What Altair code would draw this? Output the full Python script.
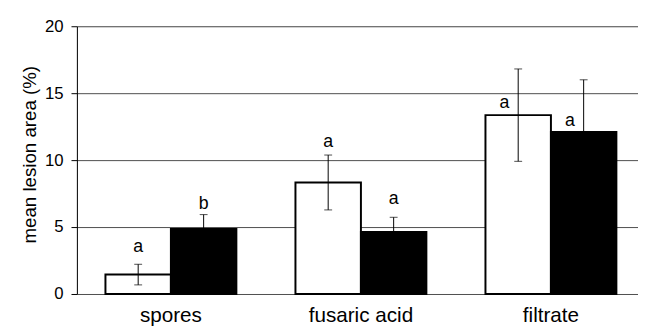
import altair as alt
import pandas as pd

categories = ["spores", "fusaric acid", "filtrate"]
series = ["open", "filled"]
open_means = [1.45, 8.33, 13.36]
open_errs = [0.77, 2.05, 3.45]
filled_means = [4.85, 4.63, 12.10]
filled_errs = [1.08, 1.10, 3.90]
open_letters = ["a", "a", "a"]
filled_letters = ["b", "a", "a"]
open_letter_y = [3.48, 11.32, 14.26]
filled_letter_y = [6.71, 7.06, 12.94]
y_ticks = [0, 5, 10, 15, 20]

rows = []
for i, c in enumerate(categories):
    for s, means, errs, letters, ly in [
        ("open", open_means, open_errs, open_letters, open_letter_y),
        ("filled", filled_means, filled_errs, filled_letters, filled_letter_y),
    ]:
        rows.append(dict(category=c, series=s, mean=means[i],
                         lo=means[i] - errs[i], hi=means[i] + errs[i],
                         letter=letters[i], ly=ly[i]))
df = pd.DataFrame(rows)

FONT = "Liberation Sans"

x_enc = alt.X("category:N", sort=categories,
              scale=alt.Scale(paddingInner=0.311, paddingOuter=0.132, align=0.569),
              axis=alt.Axis(title=None, ticks=False, domain=False, labelAngle=0,
                            labelFontSize=21, labelFont=FONT, labelColor="black",
                            labelPadding=28, labelBaseline="alphabetic"))
xo_enc = alt.XOffset("series:N", sort=series,
                     scale=alt.Scale(paddingInner=0, paddingOuter=0))
y_scale = alt.Scale(domain=[0, 20], nice=False)

base = alt.Chart(df).encode(x=x_enc, xOffset=xo_enc)

bars = base.mark_bar(stroke="black", strokeWidth=2).encode(
    y=alt.Y("mean:Q", scale=y_scale,
            axis=alt.Axis(values=y_ticks, title="mean lesion area (%)",
                          titleFont=FONT, titleFontSize=19, titleFontWeight="normal",
                          titleColor="black", titleAngle=-90, titleBaseline="alphabetic",
                          titleAlign="center", titleX=-42, titleY=130,
                          labelFont=FONT, labelFontSize=17, labelColor="black",
                          labelPadding=8, tickSize=6, tickColor="black",
                          domainColor="black", grid=True, gridColor="#4d4d4d",
                          gridWidth=1)),
    fill=alt.Fill("series:N", sort=series,
                  scale=alt.Scale(domain=series, range=["white", "black"]),
                  legend=None),
)

rule = base.mark_rule(color="black", strokeWidth=1).encode(
    y=alt.Y("lo:Q", scale=y_scale), y2="hi:Q")
cap_lo = base.mark_tick(color="black", size=8, thickness=1).encode(
    y=alt.Y("lo:Q", scale=y_scale))
cap_hi = base.mark_tick(color="black", size=8, thickness=1).encode(
    y=alt.Y("hi:Q", scale=y_scale))

txt = base.transform_filter("datum.category != 'filtrate'").mark_text(
    font=FONT, fontSize=18, baseline="middle", color="black").encode(
    y=alt.Y("ly:Q", scale=y_scale), text="letter:N")
txt_f = base.transform_filter("datum.category == 'filtrate'").mark_text(
    font=FONT, fontSize=18, baseline="middle", color="black", dx=-14).encode(
    y=alt.Y("ly:Q", scale=y_scale), text="letter:N")

chart = alt.layer(bars, rule, cap_lo, cap_hi, txt, txt_f).properties(
    width=570, height=272,
    autosize=alt.AutoSizeParams(type="none"),
    padding={"left": 70, "top": 16, "right": 0, "bottom": 31},
).configure_view(stroke=None).configure(background="white")

chart.save("out.html", embed_options={"renderer": "svg", "actions": False})
